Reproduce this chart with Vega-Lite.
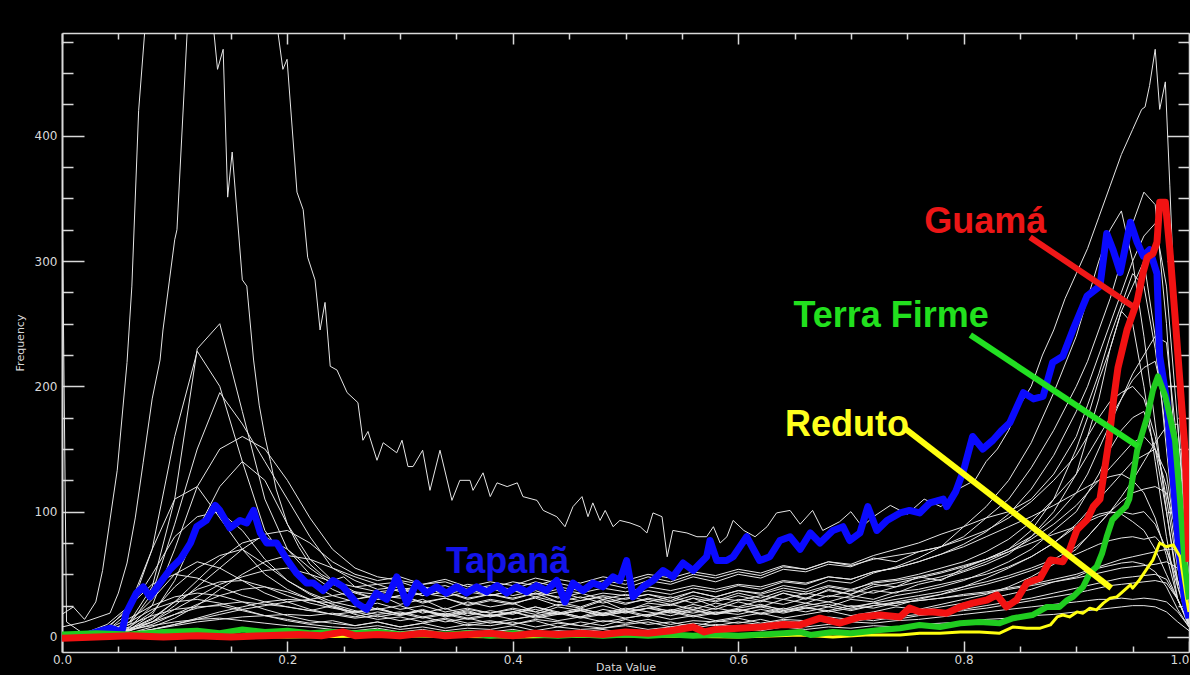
{
  "$schema": "https://vega.github.io/schema/vega-lite/v6.json",
  "width": 1127,
  "height": 619,
  "autosize": "none",
  "padding": {"left": 62, "top": 33, "right": 1, "bottom": 23},
  "background": "#000000",
  "view": {"stroke": null},
  "config": {
    "axis": {"grid": false, "domainColor": "#d9d9d9", "tickColor": "#d9d9d9", "labelColor": "#d9d9d9", "titleColor": "#d9d9d9", "labelFont": "DejaVu Sans", "titleFont": "DejaVu Sans", "titleFontWeight": "normal"}
  },
  "resolve": {"axis": {"x": "independent", "y": "independent"}},
  "datasets": {
    "white": [
{"s":"a","x":0,"y":0},{"s":"a","x":0.02,"y":1},{"s":"a","x":0.04,"y":3},{"s":"a","x":0.06,"y":12},{"s":"a","x":0.08,"y":40},{"s":"a","x":0.1,"y":110},{"s":"a","x":0.12,"y":230},{"s":"a","x":0.14,"y":250},{"s":"a","x":0.16,"y":180},{"s":"a","x":0.18,"y":110},{"s":"a","x":0.2,"y":70},{"s":"a","x":0.22,"y":50},{"s":"a","x":0.24,"y":38},{"s":"a","x":0.26,"y":30},{"s":"a","x":0.28,"y":34},{"s":"a","x":0.3,"y":26},{"s":"a","x":0.32,"y":30},{"s":"a","x":0.34,"y":22},{"s":"a","x":0.36,"y":28},{"s":"a","x":0.38,"y":24},{"s":"a","x":0.4,"y":27},{"s":"a","x":0.42,"y":20},{"s":"a","x":0.44,"y":26},{"s":"a","x":0.46,"y":23},{"s":"a","x":0.48,"y":29},{"s":"a","x":0.5,"y":21},{"s":"a","x":0.52,"y":27},{"s":"a","x":0.54,"y":25},{"s":"a","x":0.56,"y":31},{"s":"a","x":0.58,"y":24},{"s":"a","x":0.6,"y":30},{"s":"a","x":0.62,"y":28},{"s":"a","x":0.64,"y":35},{"s":"a","x":0.66,"y":30},{"s":"a","x":0.68,"y":38},{"s":"a","x":0.7,"y":34},{"s":"a","x":0.72,"y":42},{"s":"a","x":0.74,"y":40},{"s":"a","x":0.76,"y":48},{"s":"a","x":0.78,"y":45},{"s":"a","x":0.8,"y":55},{"s":"a","x":0.82,"y":62},{"s":"a","x":0.84,"y":70},{"s":"a","x":0.86,"y":85},{"s":"a","x":0.88,"y":110},{"s":"a","x":0.9,"y":150},{"s":"a","x":0.91,"y":175},{"s":"a","x":0.92,"y":205},{"s":"a","x":0.93,"y":230},{"s":"a","x":0.94,"y":260},{"s":"a","x":0.95,"y":280},{"s":"a","x":0.96,"y":300},{"s":"a","x":0.97,"y":240},{"s":"a","x":0.98,"y":150},{"s":"a","x":0.99,"y":60},{"s":"a","x":1,"y":15},
{"s":"b","x":0,"y":0},{"s":"b","x":0.02,"y":2},{"s":"b","x":0.04,"y":5},{"s":"b","x":0.06,"y":20},{"s":"b","x":0.08,"y":70},{"s":"b","x":0.1,"y":160},{"s":"b","x":0.12,"y":228},{"s":"b","x":0.14,"y":200},{"s":"b","x":0.16,"y":140},{"s":"b","x":0.18,"y":85},{"s":"b","x":0.2,"y":60},{"s":"b","x":0.22,"y":42},{"s":"b","x":0.24,"y":33},{"s":"b","x":0.26,"y":28},{"s":"b","x":0.28,"y":22},{"s":"b","x":0.3,"y":25},{"s":"b","x":0.32,"y":19},{"s":"b","x":0.34,"y":23},{"s":"b","x":0.36,"y":17},{"s":"b","x":0.38,"y":21},{"s":"b","x":0.4,"y":18},{"s":"b","x":0.42,"y":24},{"s":"b","x":0.44,"y":20},{"s":"b","x":0.46,"y":16},{"s":"b","x":0.48,"y":22},{"s":"b","x":0.5,"y":19},{"s":"b","x":0.52,"y":23},{"s":"b","x":0.54,"y":21},{"s":"b","x":0.56,"y":26},{"s":"b","x":0.58,"y":22},{"s":"b","x":0.6,"y":28},{"s":"b","x":0.62,"y":24},{"s":"b","x":0.64,"y":30},{"s":"b","x":0.66,"y":27},{"s":"b","x":0.68,"y":33},{"s":"b","x":0.7,"y":31},{"s":"b","x":0.72,"y":37},{"s":"b","x":0.74,"y":35},{"s":"b","x":0.76,"y":42},{"s":"b","x":0.78,"y":46},{"s":"b","x":0.8,"y":52},{"s":"b","x":0.82,"y":58},{"s":"b","x":0.84,"y":66},{"s":"b","x":0.86,"y":80},{"s":"b","x":0.88,"y":100},{"s":"b","x":0.9,"y":130},{"s":"b","x":0.91,"y":160},{"s":"b","x":0.92,"y":190},{"s":"b","x":0.93,"y":230},{"s":"b","x":0.94,"y":260},{"s":"b","x":0.95,"y":250},{"s":"b","x":0.96,"y":200},{"s":"b","x":0.97,"y":140},{"s":"b","x":0.98,"y":80},{"s":"b","x":0.99,"y":30},{"s":"b","x":1,"y":8},
{"s":"c","x":0,"y":1},{"s":"c","x":0.02,"y":2},{"s":"c","x":0.04,"y":4},{"s":"c","x":0.06,"y":10},{"s":"c","x":0.08,"y":35},{"s":"c","x":0.1,"y":90},{"s":"c","x":0.12,"y":150},{"s":"c","x":0.14,"y":195},{"s":"c","x":0.16,"y":170},{"s":"c","x":0.18,"y":140},{"s":"c","x":0.2,"y":110},{"s":"c","x":0.22,"y":80},{"s":"c","x":0.24,"y":55},{"s":"c","x":0.26,"y":45},{"s":"c","x":0.28,"y":38},{"s":"c","x":0.3,"y":40},{"s":"c","x":0.32,"y":33},{"s":"c","x":0.34,"y":36},{"s":"c","x":0.36,"y":30},{"s":"c","x":0.38,"y":34},{"s":"c","x":0.4,"y":31},{"s":"c","x":0.42,"y":35},{"s":"c","x":0.44,"y":28},{"s":"c","x":0.46,"y":32},{"s":"c","x":0.48,"y":27},{"s":"c","x":0.5,"y":31},{"s":"c","x":0.52,"y":34},{"s":"c","x":0.54,"y":29},{"s":"c","x":0.56,"y":36},{"s":"c","x":0.58,"y":32},{"s":"c","x":0.6,"y":37},{"s":"c","x":0.62,"y":35},{"s":"c","x":0.64,"y":41},{"s":"c","x":0.66,"y":38},{"s":"c","x":0.68,"y":45},{"s":"c","x":0.7,"y":43},{"s":"c","x":0.72,"y":51},{"s":"c","x":0.74,"y":56},{"s":"c","x":0.76,"y":63},{"s":"c","x":0.78,"y":72},{"s":"c","x":0.8,"y":88},{"s":"c","x":0.82,"y":104},{"s":"c","x":0.84,"y":125},{"s":"c","x":0.86,"y":155},{"s":"c","x":0.88,"y":195},{"s":"c","x":0.9,"y":240},{"s":"c","x":0.91,"y":270},{"s":"c","x":0.92,"y":300},{"s":"c","x":0.93,"y":325},{"s":"c","x":0.94,"y":340},{"s":"c","x":0.95,"y":300},{"s":"c","x":0.96,"y":240},{"s":"c","x":0.97,"y":170},{"s":"c","x":0.98,"y":100},{"s":"c","x":0.99,"y":40},{"s":"c","x":1,"y":10},
{"s":"d","x":0,"y":0},{"s":"d","x":0.02,"y":1},{"s":"d","x":0.04,"y":3},{"s":"d","x":0.06,"y":8},{"s":"d","x":0.08,"y":25},{"s":"d","x":0.1,"y":70},{"s":"d","x":0.12,"y":120},{"s":"d","x":0.14,"y":150},{"s":"d","x":0.16,"y":160},{"s":"d","x":0.18,"y":150},{"s":"d","x":0.2,"y":125},{"s":"d","x":0.22,"y":95},{"s":"d","x":0.24,"y":70},{"s":"d","x":0.26,"y":55},{"s":"d","x":0.28,"y":48},{"s":"d","x":0.3,"y":45},{"s":"d","x":0.32,"y":42},{"s":"d","x":0.34,"y":44},{"s":"d","x":0.36,"y":38},{"s":"d","x":0.38,"y":41},{"s":"d","x":0.4,"y":38},{"s":"d","x":0.42,"y":44},{"s":"d","x":0.44,"y":40},{"s":"d","x":0.46,"y":37},{"s":"d","x":0.48,"y":43},{"s":"d","x":0.5,"y":39},{"s":"d","x":0.52,"y":45},{"s":"d","x":0.54,"y":42},{"s":"d","x":0.56,"y":48},{"s":"d","x":0.58,"y":44},{"s":"d","x":0.6,"y":50},{"s":"d","x":0.62,"y":47},{"s":"d","x":0.64,"y":54},{"s":"d","x":0.66,"y":52},{"s":"d","x":0.68,"y":58},{"s":"d","x":0.7,"y":56},{"s":"d","x":0.72,"y":63},{"s":"d","x":0.74,"y":60},{"s":"d","x":0.76,"y":68},{"s":"d","x":0.78,"y":72},{"s":"d","x":0.8,"y":80},{"s":"d","x":0.82,"y":95},{"s":"d","x":0.84,"y":110},{"s":"d","x":0.86,"y":135},{"s":"d","x":0.88,"y":165},{"s":"d","x":0.9,"y":200},{"s":"d","x":0.91,"y":220},{"s":"d","x":0.92,"y":245},{"s":"d","x":0.93,"y":270},{"s":"d","x":0.94,"y":300},{"s":"d","x":0.95,"y":330},{"s":"d","x":0.96,"y":355},{"s":"d","x":0.97,"y":345},{"s":"d","x":0.98,"y":250},{"s":"d","x":0.99,"y":120},{"s":"d","x":1,"y":30},
{"s":"e","x":0,"y":0},{"s":"e","x":0.02,"y":0},{"s":"e","x":0.04,"y":2},{"s":"e","x":0.06,"y":6},{"s":"e","x":0.08,"y":18},{"s":"e","x":0.1,"y":45},{"s":"e","x":0.12,"y":85},{"s":"e","x":0.14,"y":120},{"s":"e","x":0.16,"y":140},{"s":"e","x":0.18,"y":125},{"s":"e","x":0.2,"y":90},{"s":"e","x":0.22,"y":62},{"s":"e","x":0.24,"y":45},{"s":"e","x":0.26,"y":36},{"s":"e","x":0.28,"y":30},{"s":"e","x":0.3,"y":33},{"s":"e","x":0.32,"y":27},{"s":"e","x":0.34,"y":31},{"s":"e","x":0.36,"y":25},{"s":"e","x":0.38,"y":29},{"s":"e","x":0.4,"y":26},{"s":"e","x":0.42,"y":32},{"s":"e","x":0.44,"y":28},{"s":"e","x":0.46,"y":24},{"s":"e","x":0.48,"y":30},{"s":"e","x":0.5,"y":26},{"s":"e","x":0.52,"y":31},{"s":"e","x":0.54,"y":28},{"s":"e","x":0.56,"y":33},{"s":"e","x":0.58,"y":29},{"s":"e","x":0.6,"y":35},{"s":"e","x":0.62,"y":31},{"s":"e","x":0.64,"y":37},{"s":"e","x":0.66,"y":34},{"s":"e","x":0.68,"y":40},{"s":"e","x":0.7,"y":37},{"s":"e","x":0.72,"y":44},{"s":"e","x":0.74,"y":46},{"s":"e","x":0.76,"y":50},{"s":"e","x":0.78,"y":55},{"s":"e","x":0.8,"y":60},{"s":"e","x":0.82,"y":68},{"s":"e","x":0.84,"y":78},{"s":"e","x":0.86,"y":92},{"s":"e","x":0.88,"y":110},{"s":"e","x":0.9,"y":130},{"s":"e","x":0.91,"y":145},{"s":"e","x":0.92,"y":160},{"s":"e","x":0.93,"y":175},{"s":"e","x":0.94,"y":190},{"s":"e","x":0.95,"y":205},{"s":"e","x":0.96,"y":215},{"s":"e","x":0.97,"y":220},{"s":"e","x":0.98,"y":180},{"s":"e","x":0.99,"y":90},{"s":"e","x":1,"y":25},
{"s":"f","x":0,"y":0},{"s":"f","x":0.02,"y":1},{"s":"f","x":0.04,"y":6},{"s":"f","x":0.06,"y":25},{"s":"f","x":0.08,"y":70},{"s":"f","x":0.1,"y":110},{"s":"f","x":0.12,"y":120},{"s":"f","x":0.14,"y":95},{"s":"f","x":0.16,"y":70},{"s":"f","x":0.18,"y":50},{"s":"f","x":0.2,"y":38},{"s":"f","x":0.22,"y":30},{"s":"f","x":0.24,"y":24},{"s":"f","x":0.26,"y":20},{"s":"f","x":0.28,"y":23},{"s":"f","x":0.3,"y":18},{"s":"f","x":0.32,"y":21},{"s":"f","x":0.34,"y":16},{"s":"f","x":0.36,"y":19},{"s":"f","x":0.38,"y":17},{"s":"f","x":0.4,"y":20},{"s":"f","x":0.42,"y":15},{"s":"f","x":0.44,"y":18},{"s":"f","x":0.46,"y":21},{"s":"f","x":0.48,"y":17},{"s":"f","x":0.5,"y":20},{"s":"f","x":0.52,"y":16},{"s":"f","x":0.54,"y":22},{"s":"f","x":0.56,"y":19},{"s":"f","x":0.58,"y":23},{"s":"f","x":0.6,"y":20},{"s":"f","x":0.62,"y":25},{"s":"f","x":0.64,"y":22},{"s":"f","x":0.66,"y":27},{"s":"f","x":0.68,"y":24},{"s":"f","x":0.7,"y":30},{"s":"f","x":0.72,"y":28},{"s":"f","x":0.74,"y":33},{"s":"f","x":0.76,"y":36},{"s":"f","x":0.78,"y":40},{"s":"f","x":0.8,"y":45},{"s":"f","x":0.82,"y":52},{"s":"f","x":0.84,"y":60},{"s":"f","x":0.86,"y":70},{"s":"f","x":0.88,"y":85},{"s":"f","x":0.9,"y":100},{"s":"f","x":0.91,"y":115},{"s":"f","x":0.92,"y":130},{"s":"f","x":0.93,"y":150},{"s":"f","x":0.94,"y":165},{"s":"f","x":0.95,"y":175},{"s":"f","x":0.96,"y":180},{"s":"f","x":0.97,"y":150},{"s":"f","x":0.98,"y":100},{"s":"f","x":0.99,"y":45},{"s":"f","x":1,"y":12},
{"s":"g","x":0,"y":0},{"s":"g","x":0.02,"y":0},{"s":"g","x":0.04,"y":2},{"s":"g","x":0.06,"y":5},{"s":"g","x":0.08,"y":12},{"s":"g","x":0.1,"y":25},{"s":"g","x":0.12,"y":40},{"s":"g","x":0.14,"y":55},{"s":"g","x":0.16,"y":70},{"s":"g","x":0.18,"y":82},{"s":"g","x":0.2,"y":85},{"s":"g","x":0.22,"y":75},{"s":"g","x":0.24,"y":60},{"s":"g","x":0.26,"y":50},{"s":"g","x":0.28,"y":45},{"s":"g","x":0.3,"y":48},{"s":"g","x":0.32,"y":42},{"s":"g","x":0.34,"y":46},{"s":"g","x":0.36,"y":40},{"s":"g","x":0.38,"y":44},{"s":"g","x":0.4,"y":41},{"s":"g","x":0.42,"y":47},{"s":"g","x":0.44,"y":43},{"s":"g","x":0.46,"y":39},{"s":"g","x":0.48,"y":45},{"s":"g","x":0.5,"y":42},{"s":"g","x":0.52,"y":48},{"s":"g","x":0.54,"y":44},{"s":"g","x":0.56,"y":50},{"s":"g","x":0.58,"y":47},{"s":"g","x":0.6,"y":52},{"s":"g","x":0.62,"y":49},{"s":"g","x":0.64,"y":56},{"s":"g","x":0.66,"y":54},{"s":"g","x":0.68,"y":60},{"s":"g","x":0.7,"y":58},{"s":"g","x":0.72,"y":65},{"s":"g","x":0.74,"y":70},{"s":"g","x":0.76,"y":75},{"s":"g","x":0.78,"y":82},{"s":"g","x":0.8,"y":88},{"s":"g","x":0.82,"y":95},{"s":"g","x":0.84,"y":100},{"s":"g","x":0.86,"y":110},{"s":"g","x":0.88,"y":130},{"s":"g","x":0.9,"y":160},{"s":"g","x":0.91,"y":185},{"s":"g","x":0.92,"y":210},{"s":"g","x":0.93,"y":240},{"s":"g","x":0.94,"y":265},{"s":"g","x":0.95,"y":290},{"s":"g","x":0.96,"y":280},{"s":"g","x":0.97,"y":230},{"s":"g","x":0.98,"y":160},{"s":"g","x":0.99,"y":80},{"s":"g","x":1,"y":20},
{"s":"h","x":0,"y":0},{"s":"h","x":0.02,"y":1},{"s":"h","x":0.04,"y":3},{"s":"h","x":0.06,"y":8},{"s":"h","x":0.08,"y":20},{"s":"h","x":0.1,"y":40},{"s":"h","x":0.12,"y":55},{"s":"h","x":0.14,"y":65},{"s":"h","x":0.16,"y":70},{"s":"h","x":0.18,"y":58},{"s":"h","x":0.2,"y":45},{"s":"h","x":0.22,"y":35},{"s":"h","x":0.24,"y":28},{"s":"h","x":0.26,"y":24},{"s":"h","x":0.28,"y":27},{"s":"h","x":0.3,"y":22},{"s":"h","x":0.32,"y":25},{"s":"h","x":0.34,"y":20},{"s":"h","x":0.36,"y":23},{"s":"h","x":0.38,"y":19},{"s":"h","x":0.4,"y":22},{"s":"h","x":0.42,"y":18},{"s":"h","x":0.44,"y":24},{"s":"h","x":0.46,"y":21},{"s":"h","x":0.48,"y":25},{"s":"h","x":0.5,"y":20},{"s":"h","x":0.52,"y":23},{"s":"h","x":0.54,"y":26},{"s":"h","x":0.56,"y":22},{"s":"h","x":0.58,"y":27},{"s":"h","x":0.6,"y":24},{"s":"h","x":0.62,"y":29},{"s":"h","x":0.64,"y":26},{"s":"h","x":0.66,"y":31},{"s":"h","x":0.68,"y":28},{"s":"h","x":0.7,"y":33},{"s":"h","x":0.72,"y":30},{"s":"h","x":0.74,"y":36},{"s":"h","x":0.76,"y":38},{"s":"h","x":0.78,"y":42},{"s":"h","x":0.8,"y":46},{"s":"h","x":0.82,"y":50},{"s":"h","x":0.84,"y":56},{"s":"h","x":0.86,"y":64},{"s":"h","x":0.88,"y":75},{"s":"h","x":0.9,"y":90},{"s":"h","x":0.91,"y":100},{"s":"h","x":0.92,"y":110},{"s":"h","x":0.93,"y":120},{"s":"h","x":0.94,"y":130},{"s":"h","x":0.95,"y":140},{"s":"h","x":0.96,"y":145},{"s":"h","x":0.97,"y":150},{"s":"h","x":0.98,"y":130},{"s":"h","x":0.99,"y":70},{"s":"h","x":1,"y":20},
{"s":"i","x":0,"y":0},{"s":"i","x":0.02,"y":2},{"s":"i","x":0.04,"y":5},{"s":"i","x":0.06,"y":12},{"s":"i","x":0.08,"y":30},{"s":"i","x":0.1,"y":50},{"s":"i","x":0.12,"y":60},{"s":"i","x":0.14,"y":55},{"s":"i","x":0.16,"y":45},{"s":"i","x":0.18,"y":35},{"s":"i","x":0.2,"y":28},{"s":"i","x":0.22,"y":22},{"s":"i","x":0.24,"y":18},{"s":"i","x":0.26,"y":15},{"s":"i","x":0.28,"y":17},{"s":"i","x":0.3,"y":13},{"s":"i","x":0.32,"y":16},{"s":"i","x":0.34,"y":12},{"s":"i","x":0.36,"y":15},{"s":"i","x":0.38,"y":11},{"s":"i","x":0.4,"y":14},{"s":"i","x":0.42,"y":17},{"s":"i","x":0.44,"y":13},{"s":"i","x":0.46,"y":16},{"s":"i","x":0.48,"y":12},{"s":"i","x":0.5,"y":15},{"s":"i","x":0.52,"y":18},{"s":"i","x":0.54,"y":14},{"s":"i","x":0.56,"y":17},{"s":"i","x":0.58,"y":13},{"s":"i","x":0.6,"y":16},{"s":"i","x":0.62,"y":19},{"s":"i","x":0.64,"y":15},{"s":"i","x":0.66,"y":18},{"s":"i","x":0.68,"y":21},{"s":"i","x":0.7,"y":17},{"s":"i","x":0.72,"y":20},{"s":"i","x":0.74,"y":24},{"s":"i","x":0.76,"y":22},{"s":"i","x":0.78,"y":26},{"s":"i","x":0.8,"y":30},{"s":"i","x":0.82,"y":34},{"s":"i","x":0.84,"y":40},{"s":"i","x":0.86,"y":48},{"s":"i","x":0.88,"y":58},{"s":"i","x":0.9,"y":70},{"s":"i","x":0.91,"y":80},{"s":"i","x":0.92,"y":90},{"s":"i","x":0.93,"y":100},{"s":"i","x":0.94,"y":108},{"s":"i","x":0.95,"y":115},{"s":"i","x":0.96,"y":118},{"s":"i","x":0.97,"y":120},{"s":"i","x":0.98,"y":115},{"s":"i","x":0.99,"y":80},{"s":"i","x":1,"y":25},
{"s":"j","x":0,"y":0},{"s":"j","x":0.02,"y":1},{"s":"j","x":0.04,"y":2},{"s":"j","x":0.06,"y":5},{"s":"j","x":0.08,"y":12},{"s":"j","x":0.1,"y":22},{"s":"j","x":0.12,"y":32},{"s":"j","x":0.14,"y":42},{"s":"j","x":0.16,"y":48},{"s":"j","x":0.18,"y":53},{"s":"j","x":0.2,"y":55},{"s":"j","x":0.22,"y":50},{"s":"j","x":0.24,"y":44},{"s":"j","x":0.26,"y":40},{"s":"j","x":0.28,"y":36},{"s":"j","x":0.3,"y":38},{"s":"j","x":0.32,"y":33},{"s":"j","x":0.34,"y":36},{"s":"j","x":0.36,"y":31},{"s":"j","x":0.38,"y":34},{"s":"j","x":0.4,"y":30},{"s":"j","x":0.42,"y":35},{"s":"j","x":0.44,"y":32},{"s":"j","x":0.46,"y":29},{"s":"j","x":0.48,"y":33},{"s":"j","x":0.5,"y":30},{"s":"j","x":0.52,"y":34},{"s":"j","x":0.54,"y":31},{"s":"j","x":0.56,"y":36},{"s":"j","x":0.58,"y":32},{"s":"j","x":0.6,"y":37},{"s":"j","x":0.62,"y":34},{"s":"j","x":0.64,"y":39},{"s":"j","x":0.66,"y":36},{"s":"j","x":0.68,"y":41},{"s":"j","x":0.7,"y":38},{"s":"j","x":0.72,"y":43},{"s":"j","x":0.74,"y":45},{"s":"j","x":0.76,"y":48},{"s":"j","x":0.78,"y":52},{"s":"j","x":0.8,"y":57},{"s":"j","x":0.82,"y":62},{"s":"j","x":0.84,"y":68},{"s":"j","x":0.86,"y":75},{"s":"j","x":0.88,"y":82},{"s":"j","x":0.9,"y":88},{"s":"j","x":0.91,"y":92},{"s":"j","x":0.92,"y":96},{"s":"j","x":0.93,"y":99},{"s":"j","x":0.94,"y":100},{"s":"j","x":0.95,"y":98},{"s":"j","x":0.96,"y":100},{"s":"j","x":0.97,"y":90},{"s":"j","x":0.98,"y":70},{"s":"j","x":0.99,"y":40},{"s":"j","x":1,"y":15},
{"s":"k","x":0,"y":0},{"s":"k","x":0.02,"y":0},{"s":"k","x":0.04,"y":2},{"s":"k","x":0.06,"y":6},{"s":"k","x":0.08,"y":15},{"s":"k","x":0.1,"y":28},{"s":"k","x":0.12,"y":38},{"s":"k","x":0.14,"y":44},{"s":"k","x":0.16,"y":45},{"s":"k","x":0.18,"y":40},{"s":"k","x":0.2,"y":33},{"s":"k","x":0.22,"y":27},{"s":"k","x":0.24,"y":23},{"s":"k","x":0.26,"y":20},{"s":"k","x":0.28,"y":22},{"s":"k","x":0.3,"y":18},{"s":"k","x":0.32,"y":21},{"s":"k","x":0.34,"y":17},{"s":"k","x":0.36,"y":20},{"s":"k","x":0.38,"y":16},{"s":"k","x":0.4,"y":19},{"s":"k","x":0.42,"y":22},{"s":"k","x":0.44,"y":18},{"s":"k","x":0.46,"y":21},{"s":"k","x":0.48,"y":17},{"s":"k","x":0.5,"y":20},{"s":"k","x":0.52,"y":23},{"s":"k","x":0.54,"y":19},{"s":"k","x":0.56,"y":22},{"s":"k","x":0.58,"y":18},{"s":"k","x":0.6,"y":21},{"s":"k","x":0.62,"y":24},{"s":"k","x":0.64,"y":20},{"s":"k","x":0.66,"y":23},{"s":"k","x":0.68,"y":26},{"s":"k","x":0.7,"y":22},{"s":"k","x":0.72,"y":25},{"s":"k","x":0.74,"y":28},{"s":"k","x":0.76,"y":31},{"s":"k","x":0.78,"y":34},{"s":"k","x":0.8,"y":38},{"s":"k","x":0.82,"y":42},{"s":"k","x":0.84,"y":47},{"s":"k","x":0.86,"y":53},{"s":"k","x":0.88,"y":60},{"s":"k","x":0.9,"y":66},{"s":"k","x":0.91,"y":70},{"s":"k","x":0.92,"y":74},{"s":"k","x":0.93,"y":77},{"s":"k","x":0.94,"y":79},{"s":"k","x":0.95,"y":80},{"s":"k","x":0.96,"y":78},{"s":"k","x":0.97,"y":80},{"s":"k","x":0.98,"y":70},{"s":"k","x":0.99,"y":45},{"s":"k","x":1,"y":15},
{"s":"l","x":0,"y":0},{"s":"l","x":0.02,"y":1},{"s":"l","x":0.04,"y":3},{"s":"l","x":0.06,"y":5},{"s":"l","x":0.08,"y":10},{"s":"l","x":0.1,"y":18},{"s":"l","x":0.12,"y":26},{"s":"l","x":0.14,"y":33},{"s":"l","x":0.16,"y":38},{"s":"l","x":0.18,"y":40},{"s":"l","x":0.2,"y":36},{"s":"l","x":0.22,"y":30},{"s":"l","x":0.24,"y":24},{"s":"l","x":0.26,"y":18},{"s":"l","x":0.28,"y":14},{"s":"l","x":0.3,"y":16},{"s":"l","x":0.32,"y":12},{"s":"l","x":0.34,"y":15},{"s":"l","x":0.36,"y":11},{"s":"l","x":0.38,"y":13},{"s":"l","x":0.4,"y":10},{"s":"l","x":0.42,"y":14},{"s":"l","x":0.44,"y":12},{"s":"l","x":0.46,"y":9},{"s":"l","x":0.48,"y":13},{"s":"l","x":0.5,"y":11},{"s":"l","x":0.52,"y":14},{"s":"l","x":0.54,"y":10},{"s":"l","x":0.56,"y":13},{"s":"l","x":0.58,"y":12},{"s":"l","x":0.6,"y":15},{"s":"l","x":0.62,"y":11},{"s":"l","x":0.64,"y":14},{"s":"l","x":0.66,"y":13},{"s":"l","x":0.68,"y":16},{"s":"l","x":0.7,"y":14},{"s":"l","x":0.72,"y":18},{"s":"l","x":0.74,"y":17},{"s":"l","x":0.76,"y":21},{"s":"l","x":0.78,"y":24},{"s":"l","x":0.8,"y":27},{"s":"l","x":0.82,"y":30},{"s":"l","x":0.84,"y":34},{"s":"l","x":0.86,"y":38},{"s":"l","x":0.88,"y":44},{"s":"l","x":0.9,"y":48},{"s":"l","x":0.91,"y":52},{"s":"l","x":0.92,"y":55},{"s":"l","x":0.93,"y":57},{"s":"l","x":0.94,"y":59},{"s":"l","x":0.95,"y":60},{"s":"l","x":0.96,"y":58},{"s":"l","x":0.97,"y":52},{"s":"l","x":0.98,"y":40},{"s":"l","x":0.99,"y":22},{"s":"l","x":1,"y":8},
{"s":"m","x":0,"y":365},{"s":"m","x":0.004,"y":12},{"s":"m","x":0.02,"y":2},{"s":"m","x":0.04,"y":6},{"s":"m","x":0.06,"y":15},{"s":"m","x":0.08,"y":25},{"s":"m","x":0.1,"y":32},{"s":"m","x":0.12,"y":35},{"s":"m","x":0.14,"y":33},{"s":"m","x":0.16,"y":28},{"s":"m","x":0.18,"y":22},{"s":"m","x":0.2,"y":17},{"s":"m","x":0.22,"y":13},{"s":"m","x":0.24,"y":11},{"s":"m","x":0.26,"y":9},{"s":"m","x":0.28,"y":12},{"s":"m","x":0.3,"y":8},{"s":"m","x":0.32,"y":11},{"s":"m","x":0.34,"y":7},{"s":"m","x":0.36,"y":10},{"s":"m","x":0.38,"y":9},{"s":"m","x":0.4,"y":12},{"s":"m","x":0.42,"y":8},{"s":"m","x":0.44,"y":11},{"s":"m","x":0.46,"y":9},{"s":"m","x":0.48,"y":7},{"s":"m","x":0.5,"y":10},{"s":"m","x":0.52,"y":12},{"s":"m","x":0.54,"y":8},{"s":"m","x":0.56,"y":11},{"s":"m","x":0.58,"y":9},{"s":"m","x":0.6,"y":12},{"s":"m","x":0.62,"y":10},{"s":"m","x":0.64,"y":13},{"s":"m","x":0.66,"y":11},{"s":"m","x":0.68,"y":14},{"s":"m","x":0.7,"y":12},{"s":"m","x":0.72,"y":15},{"s":"m","x":0.74,"y":14},{"s":"m","x":0.76,"y":17},{"s":"m","x":0.78,"y":19},{"s":"m","x":0.8,"y":21},{"s":"m","x":0.82,"y":23},{"s":"m","x":0.84,"y":26},{"s":"m","x":0.86,"y":29},{"s":"m","x":0.88,"y":32},{"s":"m","x":0.9,"y":35},{"s":"m","x":0.91,"y":37},{"s":"m","x":0.92,"y":39},{"s":"m","x":0.93,"y":41},{"s":"m","x":0.94,"y":42},{"s":"m","x":0.95,"y":43},{"s":"m","x":0.96,"y":44},{"s":"m","x":0.97,"y":45},{"s":"m","x":0.98,"y":43},{"s":"m","x":0.99,"y":30},{"s":"m","x":1,"y":10},
{"s":"n","x":0,"y":0},{"s":"n","x":0.02,"y":0},{"s":"n","x":0.04,"y":1},{"s":"n","x":0.06,"y":3},{"s":"n","x":0.08,"y":6},{"s":"n","x":0.1,"y":10},{"s":"n","x":0.12,"y":15},{"s":"n","x":0.14,"y":20},{"s":"n","x":0.16,"y":24},{"s":"n","x":0.18,"y":28},{"s":"n","x":0.2,"y":30},{"s":"n","x":0.22,"y":29},{"s":"n","x":0.24,"y":27},{"s":"n","x":0.26,"y":30},{"s":"n","x":0.28,"y":33},{"s":"n","x":0.3,"y":31},{"s":"n","x":0.32,"y":35},{"s":"n","x":0.34,"y":32},{"s":"n","x":0.36,"y":36},{"s":"n","x":0.38,"y":33},{"s":"n","x":0.4,"y":37},{"s":"n","x":0.42,"y":34},{"s":"n","x":0.44,"y":38},{"s":"n","x":0.46,"y":35},{"s":"n","x":0.48,"y":39},{"s":"n","x":0.5,"y":36},{"s":"n","x":0.52,"y":40},{"s":"n","x":0.54,"y":37},{"s":"n","x":0.56,"y":41},{"s":"n","x":0.58,"y":38},{"s":"n","x":0.6,"y":42},{"s":"n","x":0.62,"y":40},{"s":"n","x":0.64,"y":45},{"s":"n","x":0.66,"y":43},{"s":"n","x":0.68,"y":48},{"s":"n","x":0.7,"y":46},{"s":"n","x":0.72,"y":52},{"s":"n","x":0.74,"y":55},{"s":"n","x":0.76,"y":60},{"s":"n","x":0.78,"y":66},{"s":"n","x":0.8,"y":72},{"s":"n","x":0.82,"y":80},{"s":"n","x":0.84,"y":88},{"s":"n","x":0.86,"y":96},{"s":"n","x":0.88,"y":105},{"s":"n","x":0.9,"y":115},{"s":"n","x":0.91,"y":120},{"s":"n","x":0.92,"y":125},{"s":"n","x":0.93,"y":128},{"s":"n","x":0.94,"y":130},{"s":"n","x":0.95,"y":125},{"s":"n","x":0.96,"y":115},{"s":"n","x":0.97,"y":95},{"s":"n","x":0.98,"y":65},{"s":"n","x":0.99,"y":30},{"s":"n","x":1,"y":10},
{"s":"o","x":0,"y":0},{"s":"o","x":0.02,"y":1},{"s":"o","x":0.04,"y":4},{"s":"o","x":0.06,"y":10},{"s":"o","x":0.08,"y":17},{"s":"o","x":0.1,"y":22},{"s":"o","x":0.12,"y":24},{"s":"o","x":0.14,"y":25},{"s":"o","x":0.16,"y":21},{"s":"o","x":0.18,"y":17},{"s":"o","x":0.2,"y":13},{"s":"o","x":0.22,"y":10},{"s":"o","x":0.24,"y":8},{"s":"o","x":0.26,"y":7},{"s":"o","x":0.28,"y":9},{"s":"o","x":0.3,"y":6},{"s":"o","x":0.32,"y":8},{"s":"o","x":0.34,"y":5},{"s":"o","x":0.36,"y":7},{"s":"o","x":0.38,"y":6},{"s":"o","x":0.4,"y":9},{"s":"o","x":0.42,"y":5},{"s":"o","x":0.44,"y":8},{"s":"o","x":0.46,"y":6},{"s":"o","x":0.48,"y":7},{"s":"o","x":0.5,"y":9},{"s":"o","x":0.52,"y":6},{"s":"o","x":0.54,"y":8},{"s":"o","x":0.56,"y":7},{"s":"o","x":0.58,"y":10},{"s":"o","x":0.6,"y":8},{"s":"o","x":0.62,"y":9},{"s":"o","x":0.64,"y":11},{"s":"o","x":0.66,"y":8},{"s":"o","x":0.68,"y":10},{"s":"o","x":0.7,"y":12},{"s":"o","x":0.72,"y":11},{"s":"o","x":0.74,"y":13},{"s":"o","x":0.76,"y":14},{"s":"o","x":0.78,"y":16},{"s":"o","x":0.8,"y":18},{"s":"o","x":0.82,"y":20},{"s":"o","x":0.84,"y":22},{"s":"o","x":0.86,"y":24},{"s":"o","x":0.88,"y":26},{"s":"o","x":0.9,"y":28},{"s":"o","x":0.91,"y":29},{"s":"o","x":0.92,"y":30},{"s":"o","x":0.93,"y":30},{"s":"o","x":0.94,"y":31},{"s":"o","x":0.95,"y":30},{"s":"o","x":0.96,"y":31},{"s":"o","x":0.97,"y":30},{"s":"o","x":0.98,"y":28},{"s":"o","x":0.99,"y":20},{"s":"o","x":1,"y":8},
{"s":"p","x":0,"y":0},{"s":"p","x":0.02,"y":0},{"s":"p","x":0.04,"y":1},{"s":"p","x":0.06,"y":3},{"s":"p","x":0.08,"y":6},{"s":"p","x":0.1,"y":10},{"s":"p","x":0.12,"y":14},{"s":"p","x":0.14,"y":18},{"s":"p","x":0.16,"y":22},{"s":"p","x":0.18,"y":25},{"s":"p","x":0.2,"y":28},{"s":"p","x":0.22,"y":30},{"s":"p","x":0.24,"y":33},{"s":"p","x":0.26,"y":36},{"s":"p","x":0.28,"y":34},{"s":"p","x":0.3,"y":38},{"s":"p","x":0.32,"y":40},{"s":"p","x":0.34,"y":37},{"s":"p","x":0.36,"y":42},{"s":"p","x":0.38,"y":39},{"s":"p","x":0.4,"y":44},{"s":"p","x":0.42,"y":41},{"s":"p","x":0.44,"y":46},{"s":"p","x":0.46,"y":43},{"s":"p","x":0.48,"y":48},{"s":"p","x":0.5,"y":45},{"s":"p","x":0.52,"y":50},{"s":"p","x":0.54,"y":47},{"s":"p","x":0.56,"y":52},{"s":"p","x":0.58,"y":49},{"s":"p","x":0.6,"y":54},{"s":"p","x":0.62,"y":51},{"s":"p","x":0.64,"y":57},{"s":"p","x":0.66,"y":54},{"s":"p","x":0.68,"y":60},{"s":"p","x":0.7,"y":57},{"s":"p","x":0.72,"y":62},{"s":"p","x":0.74,"y":65},{"s":"p","x":0.76,"y":68},{"s":"p","x":0.78,"y":72},{"s":"p","x":0.8,"y":78},{"s":"p","x":0.82,"y":85},{"s":"p","x":0.84,"y":95},{"s":"p","x":0.86,"y":108},{"s":"p","x":0.88,"y":125},{"s":"p","x":0.9,"y":145},{"s":"p","x":0.91,"y":160},{"s":"p","x":0.92,"y":175},{"s":"p","x":0.93,"y":188},{"s":"p","x":0.94,"y":195},{"s":"p","x":0.95,"y":200},{"s":"p","x":0.96,"y":190},{"s":"p","x":0.97,"y":160},{"s":"p","x":0.98,"y":110},{"s":"p","x":0.99,"y":55},{"s":"p","x":1,"y":18},
{"s":"q","x":0,"y":0},{"s":"q","x":0.02,"y":2},{"s":"q","x":0.04,"y":8},{"s":"q","x":0.06,"y":22},{"s":"q","x":0.08,"y":50},{"s":"q","x":0.1,"y":80},{"s":"q","x":0.12,"y":96},{"s":"q","x":0.14,"y":100},{"s":"q","x":0.16,"y":85},{"s":"q","x":0.18,"y":62},{"s":"q","x":0.2,"y":45},{"s":"q","x":0.22,"y":34},{"s":"q","x":0.24,"y":26},{"s":"q","x":0.26,"y":21},{"s":"q","x":0.28,"y":18},{"s":"q","x":0.3,"y":20},{"s":"q","x":0.32,"y":16},{"s":"q","x":0.34,"y":19},{"s":"q","x":0.36,"y":15},{"s":"q","x":0.38,"y":18},{"s":"q","x":0.4,"y":14},{"s":"q","x":0.42,"y":17},{"s":"q","x":0.44,"y":20},{"s":"q","x":0.46,"y":16},{"s":"q","x":0.48,"y":19},{"s":"q","x":0.5,"y":15},{"s":"q","x":0.52,"y":18},{"s":"q","x":0.54,"y":21},{"s":"q","x":0.56,"y":17},{"s":"q","x":0.58,"y":20},{"s":"q","x":0.6,"y":18},{"s":"q","x":0.62,"y":22},{"s":"q","x":0.64,"y":19},{"s":"q","x":0.66,"y":23},{"s":"q","x":0.68,"y":21},{"s":"q","x":0.7,"y":25},{"s":"q","x":0.72,"y":23},{"s":"q","x":0.74,"y":27},{"s":"q","x":0.76,"y":29},{"s":"q","x":0.78,"y":31},{"s":"q","x":0.8,"y":34},{"s":"q","x":0.82,"y":36},{"s":"q","x":0.84,"y":39},{"s":"q","x":0.86,"y":42},{"s":"q","x":0.88,"y":46},{"s":"q","x":0.9,"y":50},{"s":"q","x":0.91,"y":53},{"s":"q","x":0.92,"y":56},{"s":"q","x":0.93,"y":59},{"s":"q","x":0.94,"y":62},{"s":"q","x":0.95,"y":64},{"s":"q","x":0.96,"y":66},{"s":"q","x":0.97,"y":68},{"s":"q","x":0.98,"y":70},{"s":"q","x":0.99,"y":70},{"s":"q","x":1,"y":35},
{"s":"r","x":0,"y":0},{"s":"r","x":0.02,"y":1},{"s":"r","x":0.04,"y":3},{"s":"r","x":0.06,"y":6},{"s":"r","x":0.08,"y":9},{"s":"r","x":0.1,"y":12},{"s":"r","x":0.12,"y":14},{"s":"r","x":0.14,"y":15},{"s":"r","x":0.16,"y":13},{"s":"r","x":0.18,"y":11},{"s":"r","x":0.2,"y":9},{"s":"r","x":0.22,"y":8},{"s":"r","x":0.24,"y":6},{"s":"r","x":0.26,"y":5},{"s":"r","x":0.28,"y":7},{"s":"r","x":0.3,"y":4},{"s":"r","x":0.32,"y":6},{"s":"r","x":0.34,"y":3},{"s":"r","x":0.36,"y":5},{"s":"r","x":0.38,"y":4},{"s":"r","x":0.4,"y":6},{"s":"r","x":0.42,"y":3},{"s":"r","x":0.44,"y":5},{"s":"r","x":0.46,"y":4},{"s":"r","x":0.48,"y":6},{"s":"r","x":0.5,"y":3},{"s":"r","x":0.52,"y":5},{"s":"r","x":0.54,"y":4},{"s":"r","x":0.56,"y":6},{"s":"r","x":0.58,"y":5},{"s":"r","x":0.6,"y":7},{"s":"r","x":0.62,"y":5},{"s":"r","x":0.64,"y":8},{"s":"r","x":0.66,"y":6},{"s":"r","x":0.68,"y":8},{"s":"r","x":0.7,"y":7},{"s":"r","x":0.72,"y":9},{"s":"r","x":0.74,"y":8},{"s":"r","x":0.76,"y":10},{"s":"r","x":0.78,"y":11},{"s":"r","x":0.8,"y":12},{"s":"r","x":0.82,"y":14},{"s":"r","x":0.84,"y":15},{"s":"r","x":0.86,"y":17},{"s":"r","x":0.88,"y":18},{"s":"r","x":0.9,"y":20},{"s":"r","x":0.91,"y":21},{"s":"r","x":0.92,"y":22},{"s":"r","x":0.93,"y":23},{"s":"r","x":0.94,"y":24},{"s":"r","x":0.95,"y":25},{"s":"r","x":0.96,"y":25},{"s":"r","x":0.97,"y":24},{"s":"r","x":0.98,"y":20},{"s":"r","x":0.99,"y":12},{"s":"r","x":1,"y":5},
{"s":"t","x":0,"y":0},{"s":"t","x":0.02,"y":0},{"s":"t","x":0.04,"y":2},{"s":"t","x":0.06,"y":6},{"s":"t","x":0.08,"y":14},{"s":"t","x":0.1,"y":28},{"s":"t","x":0.12,"y":45},{"s":"t","x":0.14,"y":62},{"s":"t","x":0.16,"y":75},{"s":"t","x":0.18,"y":80},{"s":"t","x":0.2,"y":70},{"s":"t","x":0.22,"y":55},{"s":"t","x":0.24,"y":42},{"s":"t","x":0.26,"y":35},{"s":"t","x":0.28,"y":30},{"s":"t","x":0.3,"y":33},{"s":"t","x":0.32,"y":28},{"s":"t","x":0.34,"y":31},{"s":"t","x":0.36,"y":26},{"s":"t","x":0.38,"y":30},{"s":"t","x":0.4,"y":27},{"s":"t","x":0.42,"y":31},{"s":"t","x":0.44,"y":25},{"s":"t","x":0.46,"y":29},{"s":"t","x":0.48,"y":32},{"s":"t","x":0.5,"y":27},{"s":"t","x":0.52,"y":30},{"s":"t","x":0.54,"y":26},{"s":"t","x":0.56,"y":31},{"s":"t","x":0.58,"y":28},{"s":"t","x":0.6,"y":33},{"s":"t","x":0.62,"y":29},{"s":"t","x":0.64,"y":35},{"s":"t","x":0.66,"y":31},{"s":"t","x":0.68,"y":37},{"s":"t","x":0.7,"y":34},{"s":"t","x":0.72,"y":40},{"s":"t","x":0.74,"y":43},{"s":"t","x":0.76,"y":47},{"s":"t","x":0.78,"y":51},{"s":"t","x":0.8,"y":56},{"s":"t","x":0.82,"y":62},{"s":"t","x":0.84,"y":70},{"s":"t","x":0.86,"y":80},{"s":"t","x":0.88,"y":95},{"s":"t","x":0.9,"y":115},{"s":"t","x":0.91,"y":130},{"s":"t","x":0.92,"y":150},{"s":"t","x":0.93,"y":170},{"s":"t","x":0.94,"y":190},{"s":"t","x":0.95,"y":210},{"s":"t","x":0.96,"y":225},{"s":"t","x":0.97,"y":240},{"s":"t","x":0.98,"y":235},{"s":"t","x":0.99,"y":150},{"s":"t","x":1,"y":40},
{"s":"u","x":0,"y":0},{"s":"u","x":0.02,"y":3},{"s":"u","x":0.04,"y":10},{"s":"u","x":0.06,"y":25},{"s":"u","x":0.08,"y":42},{"s":"u","x":0.1,"y":50},{"s":"u","x":0.12,"y":47},{"s":"u","x":0.14,"y":40},{"s":"u","x":0.16,"y":33},{"s":"u","x":0.18,"y":28},{"s":"u","x":0.2,"y":24},{"s":"u","x":0.22,"y":21},{"s":"u","x":0.24,"y":25},{"s":"u","x":0.26,"y":19},{"s":"u","x":0.28,"y":23},{"s":"u","x":0.3,"y":18},{"s":"u","x":0.32,"y":22},{"s":"u","x":0.34,"y":17},{"s":"u","x":0.36,"y":21},{"s":"u","x":0.38,"y":16},{"s":"u","x":0.4,"y":20},{"s":"u","x":0.42,"y":24},{"s":"u","x":0.44,"y":19},{"s":"u","x":0.46,"y":23},{"s":"u","x":0.48,"y":18},{"s":"u","x":0.5,"y":22},{"s":"u","x":0.52,"y":25},{"s":"u","x":0.54,"y":20},{"s":"u","x":0.56,"y":24},{"s":"u","x":0.58,"y":19},{"s":"u","x":0.6,"y":23},{"s":"u","x":0.62,"y":26},{"s":"u","x":0.64,"y":21},{"s":"u","x":0.66,"y":25},{"s":"u","x":0.68,"y":28},{"s":"u","x":0.7,"y":24},{"s":"u","x":0.72,"y":27},{"s":"u","x":0.74,"y":30},{"s":"u","x":0.76,"y":33},{"s":"u","x":0.78,"y":36},{"s":"u","x":0.8,"y":40},{"s":"u","x":0.82,"y":44},{"s":"u","x":0.84,"y":49},{"s":"u","x":0.86,"y":55},{"s":"u","x":0.88,"y":62},{"s":"u","x":0.9,"y":72},{"s":"u","x":0.91,"y":80},{"s":"u","x":0.92,"y":90},{"s":"u","x":0.93,"y":100},{"s":"u","x":0.94,"y":112},{"s":"u","x":0.95,"y":125},{"s":"u","x":0.96,"y":140},{"s":"u","x":0.97,"y":155},{"s":"u","x":0.98,"y":168},{"s":"u","x":0.99,"y":170},{"s":"u","x":1,"y":60},
{"s":"v","x":0,"y":0},{"s":"v","x":0.02,"y":1},{"s":"v","x":0.04,"y":3},{"s":"v","x":0.06,"y":7},{"s":"v","x":0.08,"y":12},{"s":"v","x":0.1,"y":18},{"s":"v","x":0.12,"y":23},{"s":"v","x":0.14,"y":26},{"s":"v","x":0.16,"y":28},{"s":"v","x":0.18,"y":26},{"s":"v","x":0.2,"y":24},{"s":"v","x":0.22,"y":21},{"s":"v","x":0.24,"y":18},{"s":"v","x":0.26,"y":20},{"s":"v","x":0.28,"y":16},{"s":"v","x":0.3,"y":19},{"s":"v","x":0.32,"y":15},{"s":"v","x":0.34,"y":18},{"s":"v","x":0.36,"y":14},{"s":"v","x":0.38,"y":17},{"s":"v","x":0.4,"y":20},{"s":"v","x":0.42,"y":16},{"s":"v","x":0.44,"y":19},{"s":"v","x":0.46,"y":15},{"s":"v","x":0.48,"y":18},{"s":"v","x":0.5,"y":21},{"s":"v","x":0.52,"y":17},{"s":"v","x":0.54,"y":20},{"s":"v","x":0.56,"y":16},{"s":"v","x":0.58,"y":19},{"s":"v","x":0.6,"y":22},{"s":"v","x":0.62,"y":18},{"s":"v","x":0.64,"y":21},{"s":"v","x":0.66,"y":24},{"s":"v","x":0.68,"y":20},{"s":"v","x":0.7,"y":23},{"s":"v","x":0.72,"y":27},{"s":"v","x":0.74,"y":25},{"s":"v","x":0.76,"y":30},{"s":"v","x":0.78,"y":34},{"s":"v","x":0.8,"y":40},{"s":"v","x":0.82,"y":47},{"s":"v","x":0.84,"y":55},{"s":"v","x":0.86,"y":64},{"s":"v","x":0.88,"y":75},{"s":"v","x":0.9,"y":88},{"s":"v","x":0.91,"y":94},{"s":"v","x":0.92,"y":98},{"s":"v","x":0.93,"y":100},{"s":"v","x":0.94,"y":98},{"s":"v","x":0.95,"y":92},{"s":"v","x":0.96,"y":85},{"s":"v","x":0.97,"y":70},{"s":"v","x":0.98,"y":50},{"s":"v","x":0.99,"y":30},{"s":"v","x":1,"y":10},
{"s":"w","x":0,"y":0},{"s":"w","x":0.02,"y":0},{"s":"w","x":0.04,"y":1},{"s":"w","x":0.06,"y":3},{"s":"w","x":0.08,"y":8},{"s":"w","x":0.1,"y":15},{"s":"w","x":0.12,"y":25},{"s":"w","x":0.14,"y":38},{"s":"w","x":0.16,"y":50},{"s":"w","x":0.18,"y":60},{"s":"w","x":0.2,"y":65},{"s":"w","x":0.22,"y":62},{"s":"w","x":0.24,"y":55},{"s":"w","x":0.26,"y":48},{"s":"w","x":0.28,"y":42},{"s":"w","x":0.3,"y":44},{"s":"w","x":0.32,"y":38},{"s":"w","x":0.34,"y":41},{"s":"w","x":0.36,"y":35},{"s":"w","x":0.38,"y":39},{"s":"w","x":0.4,"y":33},{"s":"w","x":0.42,"y":37},{"s":"w","x":0.44,"y":31},{"s":"w","x":0.46,"y":35},{"s":"w","x":0.48,"y":30},{"s":"w","x":0.5,"y":34},{"s":"w","x":0.52,"y":28},{"s":"w","x":0.54,"y":32},{"s":"w","x":0.56,"y":27},{"s":"w","x":0.58,"y":31},{"s":"w","x":0.6,"y":29},{"s":"w","x":0.62,"y":33},{"s":"w","x":0.64,"y":30},{"s":"w","x":0.66,"y":35},{"s":"w","x":0.68,"y":32},{"s":"w","x":0.7,"y":37},{"s":"w","x":0.72,"y":35},{"s":"w","x":0.74,"y":40},{"s":"w","x":0.76,"y":44},{"s":"w","x":0.78,"y":48},{"s":"w","x":0.8,"y":53},{"s":"w","x":0.82,"y":60},{"s":"w","x":0.84,"y":68},{"s":"w","x":0.86,"y":78},{"s":"w","x":0.88,"y":90},{"s":"w","x":0.9,"y":105},{"s":"w","x":0.91,"y":115},{"s":"w","x":0.92,"y":125},{"s":"w","x":0.93,"y":135},{"s":"w","x":0.94,"y":145},{"s":"w","x":0.95,"y":155},{"s":"w","x":0.96,"y":160},{"s":"w","x":0.97,"y":150},{"s":"w","x":0.98,"y":120},{"s":"w","x":0.99,"y":60},{"s":"w","x":1,"y":15},
{"s":"s23","x":0,"y":0},{"s":"s23","x":0.02,"y":1},{"s":"s23","x":0.04,"y":4},{"s":"s23","x":0.06,"y":12},{"s":"s23","x":0.08,"y":22},{"s":"s23","x":0.1,"y":28},{"s":"s23","x":0.12,"y":30},{"s":"s23","x":0.14,"y":27},{"s":"s23","x":0.16,"y":22},{"s":"s23","x":0.18,"y":17},{"s":"s23","x":0.2,"y":14},{"s":"s23","x":0.22,"y":11},{"s":"s23","x":0.24,"y":13},{"s":"s23","x":0.26,"y":9},{"s":"s23","x":0.28,"y":12},{"s":"s23","x":0.3,"y":8},{"s":"s23","x":0.32,"y":11},{"s":"s23","x":0.34,"y":14},{"s":"s23","x":0.36,"y":9},{"s":"s23","x":0.38,"y":12},{"s":"s23","x":0.4,"y":10},{"s":"s23","x":0.42,"y":13},{"s":"s23","x":0.44,"y":8},{"s":"s23","x":0.46,"y":12},{"s":"s23","x":0.48,"y":9},{"s":"s23","x":0.5,"y":14},{"s":"s23","x":0.52,"y":10},{"s":"s23","x":0.54,"y":12},{"s":"s23","x":0.56,"y":8},{"s":"s23","x":0.58,"y":13},{"s":"s23","x":0.6,"y":11},{"s":"s23","x":0.62,"y":14},{"s":"s23","x":0.64,"y":10},{"s":"s23","x":0.66,"y":13},{"s":"s23","x":0.68,"y":12},{"s":"s23","x":0.7,"y":15},{"s":"s23","x":0.72,"y":13},{"s":"s23","x":0.74,"y":16},{"s":"s23","x":0.76,"y":18},{"s":"s23","x":0.78,"y":20},{"s":"s23","x":0.8,"y":22},{"s":"s23","x":0.82,"y":25},{"s":"s23","x":0.84,"y":28},{"s":"s23","x":0.86,"y":31},{"s":"s23","x":0.88,"y":35},{"s":"s23","x":0.9,"y":39},{"s":"s23","x":0.91,"y":41},{"s":"s23","x":0.92,"y":43},{"s":"s23","x":0.93,"y":45},{"s":"s23","x":0.94,"y":47},{"s":"s23","x":0.95,"y":48},{"s":"s23","x":0.96,"y":49},{"s":"s23","x":0.97,"y":50},{"s":"s23","x":0.98,"y":46},{"s":"s23","x":0.99,"y":30},{"s":"s23","x":1,"y":10},
{"s":"s24","x":0,"y":0},{"s":"s24","x":0.02,"y":0},{"s":"s24","x":0.04,"y":1},{"s":"s24","x":0.06,"y":3},{"s":"s24","x":0.08,"y":6},{"s":"s24","x":0.1,"y":9},{"s":"s24","x":0.12,"y":12},{"s":"s24","x":0.14,"y":14},{"s":"s24","x":0.16,"y":16},{"s":"s24","x":0.18,"y":17},{"s":"s24","x":0.2,"y":18},{"s":"s24","x":0.22,"y":17},{"s":"s24","x":0.24,"y":19},{"s":"s24","x":0.26,"y":16},{"s":"s24","x":0.28,"y":20},{"s":"s24","x":0.3,"y":17},{"s":"s24","x":0.32,"y":21},{"s":"s24","x":0.34,"y":18},{"s":"s24","x":0.36,"y":22},{"s":"s24","x":0.38,"y":19},{"s":"s24","x":0.4,"y":23},{"s":"s24","x":0.42,"y":20},{"s":"s24","x":0.44,"y":18},{"s":"s24","x":0.46,"y":22},{"s":"s24","x":0.48,"y":19},{"s":"s24","x":0.5,"y":23},{"s":"s24","x":0.52,"y":20},{"s":"s24","x":0.54,"y":17},{"s":"s24","x":0.56,"y":21},{"s":"s24","x":0.58,"y":18},{"s":"s24","x":0.6,"y":22},{"s":"s24","x":0.62,"y":19},{"s":"s24","x":0.64,"y":23},{"s":"s24","x":0.66,"y":20},{"s":"s24","x":0.68,"y":24},{"s":"s24","x":0.7,"y":21},{"s":"s24","x":0.72,"y":25},{"s":"s24","x":0.74,"y":27},{"s":"s24","x":0.76,"y":29},{"s":"s24","x":0.78,"y":31},{"s":"s24","x":0.8,"y":33},{"s":"s24","x":0.82,"y":35},{"s":"s24","x":0.84,"y":38},{"s":"s24","x":0.86,"y":41},{"s":"s24","x":0.88,"y":44},{"s":"s24","x":0.9,"y":47},{"s":"s24","x":0.91,"y":49},{"s":"s24","x":0.92,"y":51},{"s":"s24","x":0.93,"y":53},{"s":"s24","x":0.94,"y":55},{"s":"s24","x":0.95,"y":56},{"s":"s24","x":0.96,"y":57},{"s":"s24","x":0.97,"y":58},{"s":"s24","x":0.98,"y":60},{"s":"s24","x":0.99,"y":55},{"s":"s24","x":1,"y":20},
{"s":"p1","x":0,"y":18},{"s":"p1","x":0.01,"y":24},{"s":"p1","x":0.02,"y":14},{"s":"p1","x":0.03,"y":28},{"s":"p1","x":0.036,"y":53},{"s":"p1","x":0.049,"y":133},{"s":"p1","x":0.0577,"y":219},{"s":"p1","x":0.062,"y":280},{"s":"p1","x":0.068,"y":420},{"s":"p1","x":0.074,"y":490},{"s":"p1","x":0.08,"y":560},{"s":"p1","x":0.1,"y":600},{"s":"p1","x":0.12,"y":560},{"s":"p1","x":0.134,"y":490},{"s":"p1","x":0.138,"y":453},{"s":"p1","x":0.143,"y":469},{"s":"p1","x":0.147,"y":351},{"s":"p1","x":0.151,"y":387},{"s":"p1","x":0.16,"y":285},{"s":"p1","x":0.164,"y":280},{"s":"p1","x":0.17,"y":221},{"s":"p1","x":0.175,"y":185},{"s":"p1","x":0.18,"y":160},{"s":"p1","x":0.185,"y":140},{"s":"p1","x":0.19,"y":118},{"s":"p1","x":0.2,"y":90},{"s":"p1","x":0.21,"y":72},{"s":"p1","x":0.22,"y":58},{"s":"p1","x":0.23,"y":50},{"s":"p1","x":0.24,"y":45},{"s":"p1","x":0.25,"y":48},{"s":"p1","x":0.26,"y":40},{"s":"p1","x":0.28,"y":42},{"s":"p1","x":0.3,"y":36},{"s":"p1","x":0.32,"y":40},{"s":"p1","x":0.34,"y":34},{"s":"p1","x":0.36,"y":38},{"s":"p1","x":0.38,"y":33},{"s":"p1","x":0.4,"y":37},{"s":"p1","x":0.42,"y":32},{"s":"p1","x":0.44,"y":36},{"s":"p1","x":0.46,"y":31},{"s":"p1","x":0.48,"y":35},{"s":"p1","x":0.5,"y":33},{"s":"p1","x":0.52,"y":37},{"s":"p1","x":0.54,"y":34},{"s":"p1","x":0.56,"y":39},{"s":"p1","x":0.58,"y":36},{"s":"p1","x":0.6,"y":41},{"s":"p1","x":0.62,"y":38},{"s":"p1","x":0.64,"y":44},{"s":"p1","x":0.66,"y":42},{"s":"p1","x":0.68,"y":48},{"s":"p1","x":0.7,"y":46},{"s":"p1","x":0.72,"y":52},{"s":"p1","x":0.74,"y":55},{"s":"p1","x":0.76,"y":60},{"s":"p1","x":0.78,"y":66},{"s":"p1","x":0.8,"y":74},{"s":"p1","x":0.82,"y":84},{"s":"p1","x":0.84,"y":98},{"s":"p1","x":0.86,"y":118},{"s":"p1","x":0.88,"y":145},{"s":"p1","x":0.9,"y":180},{"s":"p1","x":0.91,"y":200},{"s":"p1","x":0.92,"y":225},{"s":"p1","x":0.93,"y":250},{"s":"p1","x":0.94,"y":275},{"s":"p1","x":0.95,"y":300},{"s":"p1","x":0.96,"y":320},{"s":"p1","x":0.97,"y":330},{"s":"p1","x":0.98,"y":280},{"s":"p1","x":0.99,"y":170},{"s":"p1","x":1,"y":40},
{"s":"p2","x":0,"y":8},{"s":"p2","x":0.02,"y":12},{"s":"p2","x":0.0426,"y":19},{"s":"p2","x":0.05,"y":35},{"s":"p2","x":0.0577,"y":59},{"s":"p2","x":0.065,"y":95},{"s":"p2","x":0.072,"y":139},{"s":"p2","x":0.08,"y":190},{"s":"p2","x":0.087,"y":221},{"s":"p2","x":0.0896,"y":245},{"s":"p2","x":0.1,"y":317},{"s":"p2","x":0.102,"y":325},{"s":"p2","x":0.111,"y":482},{"s":"p2","x":0.12,"y":600},{"s":"p2","x":0.16,"y":640},{"s":"p2","x":0.185,"y":560},{"s":"p2","x":0.1917,"y":482},{"s":"p2","x":0.196,"y":453},{"s":"p2","x":0.1997,"y":461},{"s":"p2","x":0.2085,"y":355},{"s":"p2","x":0.214,"y":341},{"s":"p2","x":0.218,"y":303},{"s":"p2","x":0.2245,"y":285},{"s":"p2","x":0.229,"y":245},{"s":"p2","x":0.2334,"y":267},{"s":"p2","x":0.238,"y":216},{"s":"p2","x":0.244,"y":213},{"s":"p2","x":0.253,"y":195},{"s":"p2","x":0.2626,"y":187},{"s":"p2","x":0.267,"y":157},{"s":"p2","x":0.2715,"y":164},{"s":"p2","x":0.2795,"y":141},{"s":"p2","x":0.285,"y":155},{"s":"p2","x":0.297,"y":147},{"s":"p2","x":0.3017,"y":157},{"s":"p2","x":0.307,"y":136},{"s":"p2","x":0.3115,"y":136},{"s":"p2","x":0.32,"y":149},{"s":"p2","x":0.3265,"y":117},{"s":"p2","x":0.3354,"y":149},{"s":"p2","x":0.346,"y":109},{"s":"p2","x":0.353,"y":125},{"s":"p2","x":0.362,"y":125},{"s":"p2","x":0.3647,"y":117},{"s":"p2","x":0.3736,"y":131},{"s":"p2","x":0.38,"y":112},{"s":"p2","x":0.386,"y":123},{"s":"p2","x":0.395,"y":120},{"s":"p2","x":0.404,"y":123},{"s":"p2","x":0.409,"y":112},{"s":"p2","x":0.4215,"y":109},{"s":"p2","x":0.427,"y":101},{"s":"p2","x":0.439,"y":96},{"s":"p2","x":0.4463,"y":88},{"s":"p2","x":0.4534,"y":104},{"s":"p2","x":0.4614,"y":112},{"s":"p2","x":0.4667,"y":96},{"s":"p2","x":0.471,"y":107},{"s":"p2","x":0.4774,"y":93},{"s":"p2","x":0.482,"y":101},{"s":"p2","x":0.489,"y":88},{"s":"p2","x":0.495,"y":93},{"s":"p2","x":0.504,"y":91},{"s":"p2","x":0.513,"y":88},{"s":"p2","x":0.519,"y":83},{"s":"p2","x":0.5244,"y":99},{"s":"p2","x":0.5324,"y":96},{"s":"p2","x":0.537,"y":64},{"s":"p2","x":0.542,"y":85},{"s":"p2","x":0.5545,"y":83},{"s":"p2","x":0.5634,"y":80},{"s":"p2","x":0.572,"y":80},{"s":"p2","x":0.578,"y":88},{"s":"p2","x":0.584,"y":75},{"s":"p2","x":0.59,"y":80},{"s":"p2","x":0.5955,"y":93},{"s":"p2","x":0.605,"y":85},{"s":"p2","x":0.615,"y":80},{"s":"p2","x":0.6256,"y":88},{"s":"p2","x":0.634,"y":99},{"s":"p2","x":0.646,"y":101},{"s":"p2","x":0.655,"y":90},{"s":"p2","x":0.666,"y":101},{"s":"p2","x":0.675,"y":85},{"s":"p2","x":0.69,"y":92},{"s":"p2","x":0.7,"y":100},{"s":"p2","x":0.71,"y":88},{"s":"p2","x":0.72,"y":96},{"s":"p2","x":0.735,"y":105},{"s":"p2","x":0.75,"y":98},{"s":"p2","x":0.765,"y":110},{"s":"p2","x":0.78,"y":104},{"s":"p2","x":0.795,"y":118},{"s":"p2","x":0.81,"y":125},{"s":"p2","x":0.82,"y":140},{"s":"p2","x":0.83,"y":150},{"s":"p2","x":0.84,"y":165},{"s":"p2","x":0.85,"y":185},{"s":"p2","x":0.86,"y":200},{"s":"p2","x":0.87,"y":225},{"s":"p2","x":0.88,"y":245},{"s":"p2","x":0.89,"y":270},{"s":"p2","x":0.9,"y":290},{"s":"p2","x":0.91,"y":310},{"s":"p2","x":0.92,"y":335},{"s":"p2","x":0.93,"y":360},{"s":"p2","x":0.94,"y":385},{"s":"p2","x":0.95,"y":405},{"s":"p2","x":0.958,"y":421},{"s":"p2","x":0.961,"y":423},{"s":"p2","x":0.965,"y":440},{"s":"p2","x":0.97,"y":469},{"s":"p2","x":0.974,"y":421},{"s":"p2","x":0.979,"y":443},{"s":"p2","x":0.983,"y":360},{"s":"p2","x":0.99,"y":200},{"s":"p2","x":1,"y":40}
    ],
    "tapana": [
{"x":0,"y":0},{"x":0.02,"y":1},{"x":0.031,"y":4},{"x":0.043,"y":7},{"x":0.053,"y":4},{"x":0.057,"y":19},{"x":0.066,"y":35},{"x":0.072,"y":40},{"x":0.078,"y":32},{"x":0.087,"y":43},{"x":0.096,"y":54},{"x":0.105,"y":62},{"x":0.114,"y":75},{"x":0.1195,"y":88},{"x":0.128,"y":93},{"x":0.136,"y":105},{"x":0.14,"y":101},{"x":0.149,"y":87},{"x":0.158,"y":93},{"x":0.164,"y":91},{"x":0.17,"y":101},{"x":0.176,"y":83},{"x":0.1816,"y":75},{"x":0.1905,"y":75},{"x":0.1994,"y":62},{"x":0.208,"y":51},{"x":0.217,"y":43},{"x":0.223,"y":43},{"x":0.2316,"y":37},{"x":0.2405,"y":45},{"x":0.2494,"y":40},{"x":0.2615,"y":27},{"x":0.2703,"y":22},{"x":0.279,"y":35},{"x":0.288,"y":30},{"x":0.297,"y":48},{"x":0.306,"y":27},{"x":0.3147,"y":43},{"x":0.3236,"y":35},{"x":0.3325,"y":40},{"x":0.341,"y":35},{"x":0.35,"y":40},{"x":0.359,"y":35},{"x":0.368,"y":40},{"x":0.377,"y":36},{"x":0.386,"y":41},{"x":0.3946,"y":35},{"x":0.4035,"y":40},{"x":0.4123,"y":36},{"x":0.421,"y":41},{"x":0.43,"y":37},{"x":0.439,"y":45},{"x":0.4463,"y":28},{"x":0.4534,"y":43},{"x":0.4623,"y":37},{"x":0.471,"y":43},{"x":0.48,"y":40},{"x":0.489,"y":48},{"x":0.495,"y":45},{"x":0.501,"y":61},{"x":0.5067,"y":32},{"x":0.5155,"y":40},{"x":0.5244,"y":45},{"x":0.5333,"y":53},{"x":0.542,"y":48},{"x":0.551,"y":59},{"x":0.56,"y":53},{"x":0.572,"y":64},{"x":0.575,"y":77},{"x":0.581,"y":61},{"x":0.5897,"y":61},{"x":0.5955,"y":64},{"x":0.6075,"y":80},{"x":0.619,"y":61},{"x":0.628,"y":64},{"x":0.637,"y":77},{"x":0.646,"y":80},{"x":0.655,"y":70},{"x":0.664,"y":83},{"x":0.6726,"y":75},{"x":0.684,"y":85},{"x":0.693,"y":88},{"x":0.699,"y":77},{"x":0.708,"y":83},{"x":0.715,"y":104},{"x":0.723,"y":85},{"x":0.732,"y":93},{"x":0.7436,"y":99},{"x":0.752,"y":101},{"x":0.761,"y":99},{"x":0.77,"y":107},{"x":0.782,"y":110},{"x":0.785,"y":104},{"x":0.793,"y":116},{"x":0.8,"y":133},{"x":0.808,"y":160},{"x":0.817,"y":150},{"x":0.826,"y":157},{"x":0.834,"y":165},{"x":0.841,"y":171},{"x":0.853,"y":195},{"x":0.862,"y":190},{"x":0.8705,"y":192},{"x":0.879,"y":219},{"x":0.888,"y":224},{"x":0.897,"y":245},{"x":0.9095,"y":272},{"x":0.921,"y":280},{"x":0.927,"y":322},{"x":0.9326,"y":309},{"x":0.939,"y":291},{"x":0.948,"y":331},{"x":0.954,"y":315},{"x":0.9594,"y":304},{"x":0.965,"y":309},{"x":0.9716,"y":290},{"x":0.974,"y":224},{"x":0.9805,"y":187},{"x":0.983,"y":155},{"x":0.986,"y":125},{"x":0.991,"y":70},{"x":0.996,"y":30},{"x":1,"y":15}
    ],
    "reduto": [
{"x":0,"y":0},{"x":0.1,"y":1},{"x":0.2,"y":0},{"x":0.3,"y":1},{"x":0.4,"y":0},{"x":0.5,"y":1},{"x":0.6,"y":0},{"x":0.655,"y":1.6},{"x":0.684,"y":0},{"x":0.713,"y":1.6},{"x":0.7436,"y":1.6},{"x":0.761,"y":3},{"x":0.779,"y":3},{"x":0.797,"y":4},{"x":0.814,"y":4},{"x":0.832,"y":3},{"x":0.844,"y":8},{"x":0.856,"y":7},{"x":0.868,"y":7},{"x":0.877,"y":9.6},{"x":0.883,"y":16},{"x":0.888,"y":17.5},{"x":0.894,"y":16},{"x":0.9006,"y":20},{"x":0.906,"y":19},{"x":0.912,"y":23},{"x":0.918,"y":21.6},{"x":0.924,"y":27},{"x":0.93,"y":31},{"x":0.936,"y":32},{"x":0.941,"y":36},{"x":0.948,"y":41.5},{"x":0.95,"y":39},{"x":0.956,"y":45.5},{"x":0.962,"y":53.5},{"x":0.968,"y":61.5},{"x":0.974,"y":75},{"x":0.98,"y":72},{"x":0.986,"y":73.5},{"x":0.992,"y":64},{"x":0.998,"y":29.5},{"x":1,"y":20}
    ],
    "terrafirme": [
{"x":0,"y":2},{"x":0.03,"y":3},{"x":0.06,"y":2},{"x":0.09,"y":4},{"x":0.12,"y":5},{"x":0.14,"y":3},{"x":0.16,"y":6},{"x":0.18,"y":4},{"x":0.2,"y":5},{"x":0.22,"y":3},{"x":0.24,"y":4},{"x":0.26,"y":3},{"x":0.28,"y":4},{"x":0.3,"y":2},{"x":0.32,"y":3},{"x":0.34,"y":2},{"x":0.36,"y":3},{"x":0.38,"y":1},{"x":0.4,"y":3},{"x":0.42,"y":2},{"x":0.44,"y":1},{"x":0.46,"y":2},{"x":0.48,"y":1},{"x":0.5,"y":2},{"x":0.52,"y":1},{"x":0.54,"y":2},{"x":0.56,"y":1},{"x":0.58,"y":2},{"x":0.6,"y":1},{"x":0.62,"y":2},{"x":0.64,"y":3},{"x":0.655,"y":4},{"x":0.664,"y":1.6},{"x":0.684,"y":4},{"x":0.7,"y":3},{"x":0.726,"y":5.6},{"x":0.7436,"y":7},{"x":0.761,"y":9.6},{"x":0.779,"y":8},{"x":0.797,"y":11},{"x":0.814,"y":12},{"x":0.832,"y":11},{"x":0.844,"y":15},{"x":0.861,"y":17.5},{"x":0.874,"y":24},{"x":0.885,"y":24},{"x":0.892,"y":29.5},{"x":0.897,"y":32},{"x":0.906,"y":40},{"x":0.912,"y":51},{"x":0.918,"y":56},{"x":0.923,"y":67},{"x":0.927,"y":80},{"x":0.932,"y":93.5},{"x":0.938,"y":99},{"x":0.944,"y":104},{"x":0.947,"y":110},{"x":0.954,"y":149},{"x":0.963,"y":176},{"x":0.968,"y":197},{"x":0.9725,"y":208},{"x":0.979,"y":192},{"x":0.983,"y":176},{"x":0.9876,"y":157},{"x":0.992,"y":110},{"x":0.996,"y":60},{"x":1,"y":30}
    ],
    "guama": [
{"x":0,"y":-1},{"x":0.03,"y":0},{"x":0.06,"y":1},{"x":0.09,"y":0},{"x":0.12,"y":1},{"x":0.15,"y":0},{"x":0.18,"y":1},{"x":0.21,"y":2},{"x":0.23,"y":1},{"x":0.249,"y":4},{"x":0.26,"y":1},{"x":0.28,"y":2},{"x":0.3,"y":1},{"x":0.32,"y":3},{"x":0.34,"y":1},{"x":0.36,"y":2},{"x":0.38,"y":3},{"x":0.4,"y":1},{"x":0.42,"y":3},{"x":0.44,"y":2},{"x":0.46,"y":3},{"x":0.48,"y":2},{"x":0.5,"y":4},{"x":0.52,"y":3},{"x":0.54,"y":5},{"x":0.56,"y":8},{"x":0.57,"y":4},{"x":0.58,"y":6},{"x":0.6,"y":7},{"x":0.62,"y":8},{"x":0.64,"y":10},{"x":0.655,"y":9.6},{"x":0.6726,"y":15},{"x":0.69,"y":11},{"x":0.708,"y":16},{"x":0.726,"y":17.5},{"x":0.7436,"y":16},{"x":0.752,"y":23},{"x":0.761,"y":20},{"x":0.773,"y":20},{"x":0.785,"y":19},{"x":0.797,"y":24},{"x":0.808,"y":27},{"x":0.8207,"y":29.5},{"x":0.8296,"y":33.5},{"x":0.838,"y":24},{"x":0.847,"y":29.5},{"x":0.856,"y":43},{"x":0.868,"y":47},{"x":0.877,"y":61.5},{"x":0.888,"y":60},{"x":0.894,"y":69.5},{"x":0.9006,"y":85.5},{"x":0.9095,"y":93.5},{"x":0.915,"y":104},{"x":0.921,"y":110},{"x":0.925,"y":133},{"x":0.929,"y":157},{"x":0.933,"y":189},{"x":0.937,"y":215},{"x":0.945,"y":245},{"x":0.954,"y":268},{"x":0.959,"y":290},{"x":0.963,"y":303},{"x":0.968,"y":306},{"x":0.9716,"y":315},{"x":0.974,"y":347},{"x":0.979,"y":347},{"x":0.983,"y":309},{"x":0.9876,"y":256},{"x":0.992,"y":203},{"x":0.9965,"y":149},{"x":1,"y":60}
    ],
    "leaders": [
      {"x": 0.859, "y": 319, "x2": 0.95, "y2": 264, "c": "#f01818"},
      {"x": 0.806, "y": 241, "x2": 0.955, "y2": 152, "c": "#22e022"},
      {"x": 0.747, "y": 167, "x2": 0.931, "y2": 39, "c": "#ffff10"}
    ],
    "names": [
      {"label": "Guamá", "x": 0.765, "y": 322, "c": "#ec1616"},
      {"label": "Terra Firme", "x": 0.649, "y": 247, "c": "#22e01e"},
      {"label": "Reduto", "x": 0.6415, "y": 160, "c": "#ffff1e"},
      {"label": "Tapanã", "x": 0.3407, "y": 51, "c": "#1414ea"}
    ]
  },
  "layer": [
    {
      "data": {"name": "white"},
      "mark": {"type": "line", "stroke": "#e6e6e6", "strokeWidth": 1, "clip": true},
      "encoding": {
        "x": {"field": "x", "type": "quantitative", "scale": {"domain": [0, 1], "nice": false, "zero": false},
          "axis": {"orient": "bottom", "values": [0, 0.2, 0.4, 0.6, 0.8, 1], "format": ".1f", "ticks": false, "domain": true, "domainWidth": 1.5, "labelFontSize": 12, "labelPadding": 2, "labelFlush": false, "labelOverlap": false, "labelBound": false,
            "labelAlign": {"condition": {"test": "datum.value >= 1", "value": "right"}, "value": "center"},
            "title": "Data Value", "titleFontSize": 11, "titlePadding": -4}},
        "y": {"field": "y", "type": "quantitative", "scale": {"domain": [-12, 482], "nice": false, "zero": false},
          "axis": {"orient": "left", "values": [0, 100, 200, 300, 400], "format": "d", "ticks": false, "domain": true, "domainWidth": 2, "labelFontSize": 12, "labelPadding": 5, "labelOverlap": false, "labelBound": false, "title": "Frequency", "titleFontSize": 11, "titlePadding": 9}},
        "detail": {"field": "s", "type": "nominal"}
      }
    },
    {
      "data": {"name": "tapana"},
      "mark": {"type": "line", "stroke": "#0a0aff", "strokeWidth": 7, "strokeJoin": "round", "clip": true},
      "encoding": {
        "x": {"field": "x", "type": "quantitative", "axis": {"orient": "bottom", "values": [0, 0.2, 0.4, 0.6, 0.8, 1], "labels": false, "domain": false, "tickSize": -11, "tickWidth": 1.5, "title": null}},
        "y": {"field": "y", "type": "quantitative", "axis": {"orient": "left", "values": [0, 100, 200, 300, 400], "labels": false, "domain": false, "tickSize": -22, "tickWidth": 1.5, "title": null}}
      }
    },
    {
      "data": {"name": "reduto"},
      "mark": {"type": "line", "stroke": "#ffff10", "strokeWidth": 3, "strokeJoin": "round", "clip": true},
      "encoding": {
        "x": {"field": "x", "type": "quantitative", "axis": {"orient": "bottom", "values": [0.05, 0.1, 0.15, 0.25, 0.3, 0.35, 0.45, 0.5, 0.55, 0.65, 0.7, 0.75, 0.85, 0.9, 0.95], "labels": false, "domain": false, "tickSize": -6, "tickWidth": 1.5, "title": null}},
        "y": {"field": "y", "type": "quantitative", "axis": {"orient": "left", "values": [25, 50, 75, 125, 150, 175, 225, 250, 275, 325, 350, 375, 425, 450, 475], "labels": false, "domain": false, "tickSize": -11, "tickWidth": 1.5, "title": null}}
      }
    },
    {
      "data": {"name": "terrafirme"},
      "mark": {"type": "line", "stroke": "#20cc20", "strokeWidth": 6, "strokeJoin": "round", "clip": true},
      "encoding": {
        "x": {"field": "x", "type": "quantitative", "axis": {"orient": "top", "values": [0, 0.2, 0.4, 0.6, 0.8, 1], "labels": false, "domain": true, "domainWidth": 1.5, "tickSize": -11, "tickWidth": 1.5, "title": null}},
        "y": {"field": "y", "type": "quantitative", "axis": {"orient": "right", "values": [0, 100, 200, 300, 400], "labels": false, "domain": true, "domainWidth": 1.5, "tickSize": -22, "tickWidth": 1.5, "title": null}}
      }
    },
    {
      "data": {"name": "guama"},
      "mark": {"type": "line", "stroke": "#f21212", "strokeWidth": 7, "strokeJoin": "round", "clip": true},
      "encoding": {
        "x": {"field": "x", "type": "quantitative", "axis": {"orient": "top", "values": [0.05, 0.1, 0.15, 0.25, 0.3, 0.35, 0.45, 0.5, 0.55, 0.65, 0.7, 0.75, 0.85, 0.9, 0.95], "labels": false, "domain": false, "tickSize": -6, "tickWidth": 1.5, "title": null}},
        "y": {"field": "y", "type": "quantitative", "axis": {"orient": "right", "values": [25, 50, 75, 125, 150, 175, 225, 250, 275, 325, 350, 375, 425, 450, 475], "labels": false, "domain": false, "tickSize": -11, "tickWidth": 1.5, "title": null}}
      }
    },
    {
      "data": {"name": "leaders"},
      "mark": {"type": "rule", "strokeWidth": 6, "strokeCap": "butt"},
      "encoding": {
        "x": {"field": "x", "type": "quantitative", "axis": null},
        "y": {"field": "y", "type": "quantitative", "axis": null},
        "x2": {"field": "x2"},
        "y2": {"field": "y2"},
        "color": {"field": "c", "type": "nominal", "scale": null}
      }
    },
    {
      "data": {"name": "names"},
      "mark": {"type": "text", "font": "Liberation Sans", "fontWeight": "bold", "fontSize": 36, "align": "left", "baseline": "alphabetic"},
      "encoding": {
        "x": {"field": "x", "type": "quantitative", "axis": null},
        "y": {"field": "y", "type": "quantitative", "axis": null},
        "text": {"field": "label"},
        "color": {"field": "c", "type": "nominal", "scale": null}
      }
    }
  ]
}
